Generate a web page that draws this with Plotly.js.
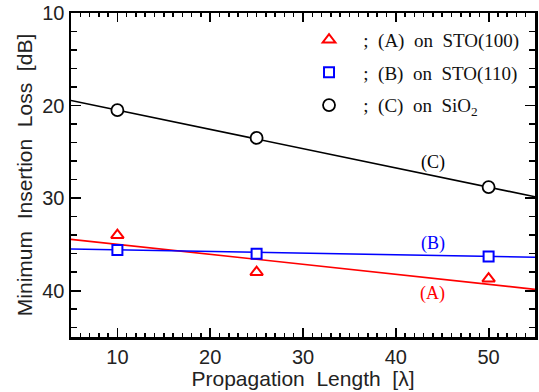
<!DOCTYPE html>
<html>
<head>
<meta charset="utf-8">
<script src="https://cdn.plot.ly/plotly-3.0.1.min.js"></script>
<style>html,body{margin:0;padding:0;background:#fff;}#chart{width:539px;height:392px;}</style>
</head>
<body>
<div id="chart"></div>
<script>
// Measured data points
const lengths = [10, 25, 50];
const lossA = [34.0, 38.0, 38.7];   // (A) on STO(100)
const lossB = [35.6, 36.0, 36.3];   // (B) on STO(110)
const lossC = [20.5, 23.5, 28.8];   // (C) on SiO2
// Fitted lines (end points)
const fitX = [5, 55];
const fitA = [34.45, 39.85];
const fitB = [35.5, 36.38];
const fitC = [19.45, 29.85];
// Labels
const legendNames = [
  "\u00a0\u00a0\u00a0;\u00a0\u00a0(A)\u00a0\u00a0on\u00a0\u00a0STO(100)",
  "\u00a0\u00a0\u00a0;\u00a0\u00a0(B)\u00a0\u00a0on\u00a0\u00a0STO(110)",
  "\u00a0\u00a0\u00a0;\u00a0\u00a0(C)\u00a0\u00a0on\u00a0\u00a0SiO<sub>2</sub>"
];
const xTickVals = [10, 20, 30, 40, 50];
const yTickVals = [10, 20, 30, 40];

const red = '#ff0000', blue = '#0000ff', black = '#000000';
const serif = 'Liberation Serif, Times New Roman, serif';
const sans = 'Liberation Sans, Arial, sans-serif';

const traces = [
  {x: fitX, y: fitA, mode: 'lines', line: {color: red, width: 1.6}, showlegend: false, hoverinfo: 'skip'},
  {x: fitX, y: fitB, mode: 'lines', line: {color: blue, width: 1.6}, showlegend: false, hoverinfo: 'skip'},
  {x: fitX, y: fitC, mode: 'lines', line: {color: black, width: 1.6}, showlegend: false, hoverinfo: 'skip'},
  {x: lengths, y: lossA, mode: 'markers', name: legendNames[0], legendgroup: 'a',
   marker: {symbol: 'triangle-up-open', size: 11, color: red, line: {width: 2, color: red}}},
  {x: lengths, y: lossB, mode: 'markers', name: legendNames[1], legendgroup: 'b',
   marker: {symbol: 'square', size: 10, color: '#ffffff', line: {width: 2, color: blue}}},
  {x: lengths, y: lossC, mode: 'markers', name: legendNames[2], legendgroup: 'c',
   marker: {symbol: 'circle', size: 12, color: '#ffffff', line: {width: 1.8, color: black}}}
];

const layout = {
  width: 539, height: 392,
  margin: {l: 71, r: 4, t: 13, b: 55},
  paper_bgcolor: '#ffffff', plot_bgcolor: '#ffffff',
  showlegend: true,
  legend: {x: 0.513, xanchor: 'left', y: 0.976, yanchor: 'top', bgcolor: 'rgba(0,0,0,0)',
           font: {family: serif, size: 19, color: '#111'}, tracegroupgap: 5, itemwidth: 30},
  xaxis: {
    range: [5, 55], showgrid: false, zeroline: false,
    showline: true, linecolor: black, linewidth: 2.5, mirror: 'ticks',
    ticks: 'inside', tickmode: 'array', tickvals: xTickVals, ticklen: 9, tickwidth: 1.8, tickcolor: black,
    minor: {tickmode: 'linear', tick0: 5, dtick: 1, ticks: 'inside', ticklen: 4, tickwidth: 1.5, tickcolor: black},
    tickfont: {family: sans, size: 20, color: '#222'},
    title: {text: 'Propagation\u00a0\u00a0Length\u00a0\u00a0[\u03bb]', font: {family: sans, size: 21, color: '#222'}, standoff: 2}
  },
  yaxis: {
    range: [45, 10], showgrid: false, zeroline: false,
    showline: true, linecolor: black, linewidth: 2.5, mirror: 'ticks',
    ticks: 'inside', tickmode: 'array', tickvals: yTickVals, ticklen: 10, tickwidth: 1.8, tickcolor: black,
    minor: {tickmode: 'linear', tick0: 10, dtick: 2, ticks: 'inside', ticklen: 6, tickwidth: 1.5, tickcolor: black},
    tickfont: {family: sans, size: 20, color: '#222'},
    title: {text: 'Minimum\u00a0\u00a0Insertion\u00a0\u00a0Loss\u00a0\u00a0[dB]', font: {family: sans, size: 21, color: '#222'}, standoff: 4}
  },
  annotations: [
    {x: 44, y: 26.1, xref: 'x', yref: 'y', text: '(C)', showarrow: false, font: {family: serif, size: 18, color: black}},
    {x: 44, y: 34.85, xref: 'x', yref: 'y', text: '(B)', showarrow: false, font: {family: serif, size: 18, color: blue}},
    {x: 44, y: 40.3, xref: 'x', yref: 'y', text: '(A)', showarrow: false, font: {family: serif, size: 18, color: red}}
  ]
};

Plotly.newPlot('chart', traces, layout, {displayModeBar: false, staticPlot: true});
</script>
</body>
</html>
